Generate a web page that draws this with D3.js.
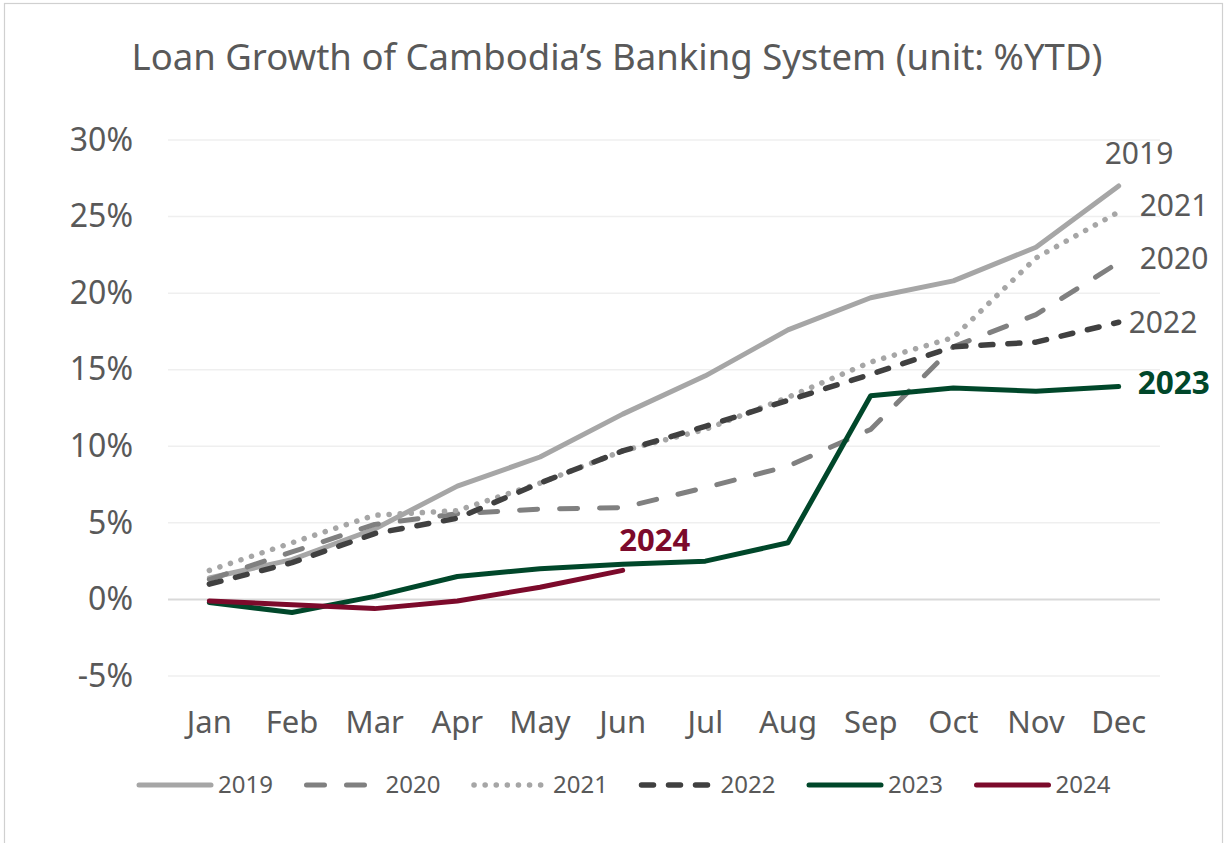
<!DOCTYPE html>
<html><head><meta charset="utf-8">
<script src="https://cdn.jsdelivr.net/npm/d3@7"></script>
<style>
html,body{margin:0;padding:0;background:#fff;}
svg text{font-family:"Noto Sans","Open Sans",sans-serif;}
</style></head>
<body><svg id="c" width="1225" height="843"></svg>
<script>
const months = ["Jan","Feb","Mar","Apr","May","Jun","Jul","Aug","Sep","Oct","Nov","Dec"];
const yTicks = [-5,0,5,10,15,20,25,30];
const s2019 = [1.4,2.6,4.6,7.4,9.3,12.1,14.6,17.6,19.7,20.8,23.0,27.0];
const s2020 = [1.3,3.1,4.9,5.6,5.9,6.0,7.3,8.7,11.1,16.5,18.6,22.0];
const s2021 = [1.9,3.7,5.5,5.8,7.6,9.7,11.1,13.2,15.5,17.1,22.3,25.3];
const s2022 = [1.0,2.4,4.3,5.3,7.6,9.7,11.3,13.0,14.7,16.5,16.8,18.1];
const s2023 = [-0.2,-0.85,0.2,1.5,2.0,2.3,2.5,3.7,13.3,13.8,13.6,13.9];
const s2024 = [-0.1,-0.35,-0.6,-0.1,0.8,1.9];
const seriesNames = ["2019","2020","2021","2022","2023","2024"];

const FONT = "'Noto Sans','Open Sans',sans-serif";
const series = [
  {name:"2019", values:s2019, color:"#a6a6a6", width:5, dash:null},
  {name:"2020", values:s2020, color:"#808080", width:5, dash:"18,22"},
  {name:"2021", values:s2021, color:"#a6a6a6", width:5.5, dash:"0.1,11"},
  {name:"2022", values:s2022, color:"#404040", width:5.5, dash:"12,15"},
  {name:"2023", values:s2023, color:"#00472a", width:5, dash:null},
  {name:"2024", values:s2024, color:"#7c0a2b", width:5, dash:null}
];

const svg = d3.select("#c");
svg.append("rect").attr("x",4.5).attr("y",3.5).attr("width",1218).attr("height",845)
  .attr("fill","#fff").attr("stroke","#d0d0d0").attr("stroke-width",1.2);

const L=168, R=1160, T=140, B=676;
const x = d3.scaleBand().domain(months).range([L,R]);
const xc = m => x(m)+x.bandwidth()/2;
const y = d3.scaleLinear().domain([-5,30]).range([B,T]);

svg.append("text").attr("x",617).attr("y",70).attr("text-anchor","middle")
  .attr("font-size",36.5).attr("fill","#595959")
  .text("Loan Growth of Cambodia’s Banking System (unit: %YTD)");

// gridlines
const g = svg.append("g");
g.selectAll("line").data(yTicks).join("line")
  .attr("x1",L).attr("x2",R).attr("y1",d=>y(d)).attr("y2",d=>y(d))
  .attr("stroke",d=>d===0?"#d9d9d9":"#efefef").attr("stroke-width",d=>d===0?2:1.5);

// y axis labels
const ya = d3.axisLeft(y).tickValues(yTicks).tickFormat(d=>d+"%").tickSize(0).tickPadding(0);
const yg = svg.append("g").attr("transform",`translate(${L-35},0)`).call(ya);
yg.select(".domain").remove();
yg.selectAll("text").attr("font-size",32).attr("fill","#595959").style("font-family",FONT);

// x axis labels
const xa = d3.axisBottom(x).tickSize(0).tickPadding(0);
const xg = svg.append("g").attr("transform",`translate(0,${B+35})`).call(xa);
xg.select(".domain").remove();
xg.selectAll("text").attr("font-size",31).attr("fill","#595959").style("font-family",FONT);

// lines
const line = d3.line().x((d,i)=>xc(months[i])).y(d=>y(d));
svg.append("g").selectAll("path").data(series).join("path")
  .attr("d",d=>line(d.values)).attr("fill","none")
  .attr("stroke",d=>d.color).attr("stroke-width",d=>d.width)
  .attr("stroke-dasharray",d=>d.dash)
  .attr("stroke-linecap","round")
  .attr("stroke-linejoin","round");

// end labels
const endLab = [
  {name:"2019", dx:-14, dy:-32, color:"#595959", bold:false, size:30},
  {name:"2021", dx:21, dy:-6, color:"#595959", bold:false, size:30},
  {name:"2020", dx:21, dy:-4, color:"#595959", bold:false, size:30},
  {name:"2022", dx:10, dy:0, color:"#595959", bold:false, size:30},
  {name:"2023", dx:19, dy:-4, color:"#00472a", bold:true, size:31.5}
];
const lastIdx = months.length-1;
endLab.forEach(e=>{
  const s = series.find(d=>d.name===e.name);
  svg.append("text").attr("x",xc(months[lastIdx])+e.dx)
    .attr("y",y(s.values[lastIdx])+e.dy).attr("dy","0.35em")
    .attr("font-size",e.size).attr("font-weight",e.bold?"bold":"normal")
    .attr("fill",e.color).text(e.name);
});
// 2024 label
const s24 = series[5];
svg.append("text").attr("x",xc(months[s24.values.length-1])+32).attr("y",y(s24.values[s24.values.length-1])-30)
  .attr("dy","0.35em").attr("text-anchor","middle").attr("font-size",31).attr("font-weight","bold")
  .attr("fill","#7c0a2b").text("2024");

// legend
const leg = svg.append("g").attr("transform","translate(136,785)");
series.forEach((s,i)=>{
  const gx = i*167.5;
  const it = leg.append("g").attr("transform",`translate(${gx},0)`);
  it.append("line").attr("x1",3).attr("x2",75).attr("y1",0).attr("y2",0)
    .attr("stroke",s.color).attr("stroke-width",s.width)
    .attr("stroke-dasharray",s.dash).attr("stroke-linecap","round");
  it.append("text").attr("x",82).attr("y",0).attr("dy","0.35em")
    .attr("font-size",24).attr("fill","#595959").text(s.name);
});
</script></body></html>
